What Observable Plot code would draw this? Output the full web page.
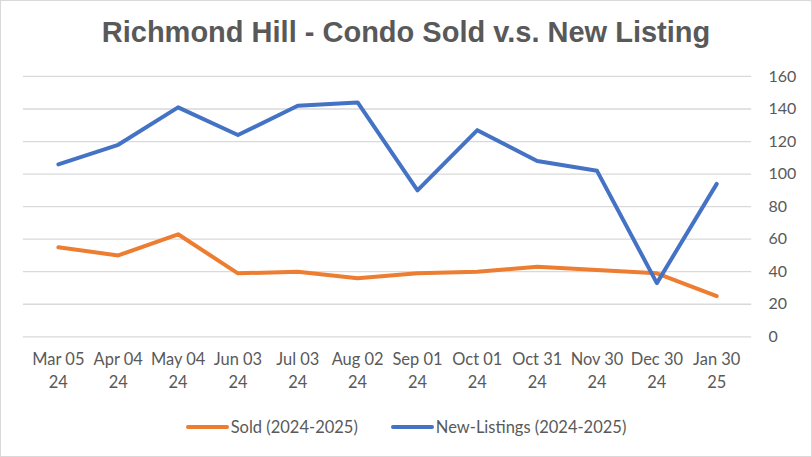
<!DOCTYPE html>
<html>
<head>
<meta charset="utf-8">
<script src="https://cdn.jsdelivr.net/npm/d3@7"></script>
<script src="https://cdn.jsdelivr.net/npm/@observablehq/plot@0.6"></script>
<style>
  html, body { margin: 0; padding: 0; background: white; }
  #frame { width: 812px; height: 457px; box-sizing: border-box; border: 1px solid #d9d9d9; position: relative; overflow: hidden; background: white; }
  #title { height: 59px; display: flex; align-items: center; justify-content: center; font-family: "Liberation Sans", Arial, sans-serif; font-weight: bold; font-size: 29px; color: #595959; padding-top: 4px; box-sizing: border-box; }
  #chart { height: 350px; }
  #legend { display: flex; justify-content: center; align-items: center; gap: 33px; font-family: Lato, sans-serif; font-size: 16.5px; color: #595959; margin-top: 7px; }
  .item { display: flex; align-items: center; }
  .sw { width: 43px; height: 4px; border-radius: 2px; margin-right: 2px; }
</style>
</head>
<body>
<div id="frame">
  <div id="title">Richmond Hill - Condo Sold v.s. New Listing</div>
  <div id="chart"></div>
  <div id="legend"></div>
</div>
<script>
const categories = ["Mar 05\n24", "Apr 04\n24", "May 04\n24", "Jun 03\n24", "Jul 03\n24", "Aug 02\n24",
                    "Sep 01\n24", "Oct 01\n24", "Oct 31\n24", "Nov 30\n24", "Dec 30\n24", "Jan 30\n25"];
const sold = [55, 50, 63, 39, 40, 36, 39, 40, 43, 41, 39, 25];
const newListings = [106, 118, 141, 124, 142, 144, 90, 127, 108, 102, 33, 94];
const seriesNames = ["Sold (2024-2025)", "New-Listings (2024-2025)"];
const seriesColors = ["#ED7D31", "#4472C4"];
const yTicks = [0, 20, 40, 60, 80, 100, 120, 140, 160];

const soldData = categories.map((c, i) => ({cat: c, value: sold[i]}));
const listData = categories.map((c, i) => ({cat: c, value: newListings[i]}));

const chart = Plot.plot({
  width: 812,
  height: 350,
  marginLeft: 22,
  marginRight: 60,
  marginTop: 16,
  marginBottom: 73,
  style: {fontFamily: "Lato, sans-serif", fontSize: "15.5px", color: "#595959", background: "white", overflow: "visible"},
  x: {type: "point", domain: categories, padding: 0.5, label: null},
  y: {domain: [0, 160], label: null},
  marks: [
    Plot.ruleY(yTicks, {stroke: "#d9d9d9", strokeWidth: 1.3}),
    Plot.axisY({anchor: "right", ticks: yTicks, tickSize: 0, tickPadding: 17, label: null, fill: "#595959", fontSize: 16}),
    Plot.axisX({tickSize: 0, tickPadding: 12, lineHeight: 1.4, label: null, fill: "#595959", fontSize: 16.5}),
    Plot.line(soldData, {x: "cat", y: "value", stroke: seriesColors[0], strokeWidth: 4, strokeLinejoin: "round", strokeLinecap: "round"}),
    Plot.line(listData, {x: "cat", y: "value", stroke: seriesColors[1], strokeWidth: 4, strokeLinejoin: "round", strokeLinecap: "round"})
  ]
});
document.getElementById("chart").appendChild(chart);

const legend = document.getElementById("legend");
seriesNames.forEach((name, i) => {
  const item = document.createElement("div");
  item.className = "item";
  const sw = document.createElement("span");
  sw.className = "sw";
  sw.style.background = seriesColors[i];
  const lab = document.createElement("span");
  lab.textContent = name;
  item.appendChild(sw);
  item.appendChild(lab);
  legend.appendChild(item);
});
</script>
</body>
</html>
